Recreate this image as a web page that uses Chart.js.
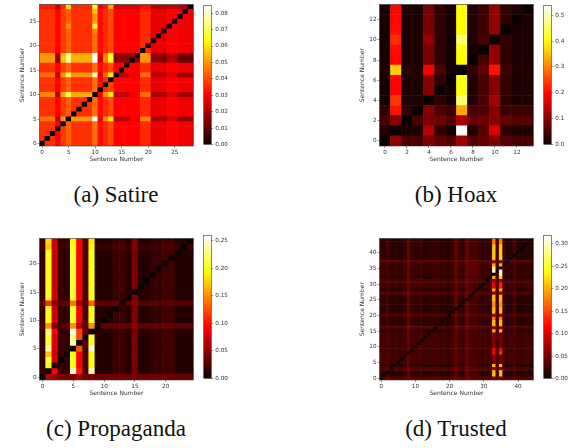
<!DOCTYPE html>
<html lang="en">
<head>
    <title>Sentence similarity heatmaps</title>
    <meta charset="utf-8" />
    <script src="https://cdn.jsdelivr.net/npm/chart.js"></script>
    <style>
        html, body { margin: 0; padding: 0; background: #fff; }
        body { position: relative; width: 579px; height: 448px; overflow: hidden; }
        canvas { position: absolute; filter: blur(0.5px); }
        .caption { position: absolute; width: 200px; text-align: center; font: 23px "Liberation Serif", serif; color: #111; line-height: 24px; }
    </style>
</head>
<body>
    <canvas id="satire" width="175" height="163" style="left:19px;top:0"></canvas>
    <canvas id="satireBar" width="50" height="150" style="left:196px;top:0"></canvas>
    <canvas id="hoax" width="175" height="163" style="left:359px;top:0"></canvas>
    <canvas id="hoaxBar" width="40" height="150" style="left:536px;top:0"></canvas>
    <canvas id="propaganda" width="175" height="163" style="left:19px;top:234px"></canvas>
    <canvas id="propagandaBar" width="50" height="154" style="left:196px;top:230px"></canvas>
    <canvas id="trusted" width="175" height="163" style="left:359px;top:234px"></canvas>
    <canvas id="trustedBar" width="40" height="154" style="left:536px;top:230px"></canvas>
    <div class="caption" style="left:16px;top:183px">(a) Satire</div>
    <div class="caption" style="left:356px;top:183px">(b) Hoax</div>
    <div class="caption" style="left:16px;top:417px">(c) Propaganda</div>
    <div class="caption" style="left:356px;top:417px">(d) Trusted</div>

    <script>
        // cell values in thousandths, first row is sentence 0
        var satireRows = [
            [0,37,37,31,38, 43,37,37,37,37, 45,32,36,40,31, 31,31,31,31,36, 36,28,28,28,31, 31,29,29,29],
            [37,0,37,31,38, 43,37,37,37,37, 45,32,36,40,31, 31,31,31,31,36, 36,28,28,28,31, 31,29,29,29],
            [37,37,0,31,38, 43,37,37,37,37, 45,32,36,40,31, 31,31,31,31,36, 36,28,28,28,31, 31,29,29,29],
            [37,37,37,0,38, 43,37,37,37,37, 45,32,36,40,31, 31,31,31,31,36, 36,28,28,28,31, 31,29,29,29],
            [37,37,37,31,0, 43,37,37,37,37, 45,32,36,40,31, 31,31,31,31,36, 36,28,28,28,31, 31,29,29,29],
            [46,46,46,22,50, 0,50,50,50,50, 85,30,48,60,22, 22,22,30,28,47, 47,21,21,18,27, 27,18,18,18],
            [37,37,37,31,38, 43,0,37,37,37, 45,32,36,40,31, 31,31,31,31,36, 36,28,28,28,31, 31,29,29,29],
            [37,37,37,31,38, 43,37,0,37,37, 45,32,36,40,31, 31,31,31,31,36, 36,28,28,28,31, 31,29,29,29],
            [37,37,37,31,38, 43,37,37,0,37, 45,32,36,40,31, 31,31,31,31,36, 36,28,28,28,31, 31,29,29,29],
            [37,37,37,31,38, 43,37,37,37,0, 45,32,36,40,31, 31,31,31,31,36, 36,28,28,28,31, 31,29,29,29],
            [48,48,48,22,52, 70,52,52,52,52, 0,30,50,60,23, 23,23,30,30,45, 45,21,21,21,27, 27,19,19,19],
            [37,37,37,31,38, 43,37,37,37,37, 45,0,36,40,31, 31,31,31,31,36, 36,28,28,28,31, 31,29,29,29],
            [37,37,37,31,38, 43,37,37,37,37, 45,32,0,40,31, 31,31,31,31,36, 36,28,28,28,31, 31,29,29,29],
            [37,37,37,31,38, 43,37,37,37,37, 45,32,36,0,31, 31,31,31,31,36, 36,28,28,28,31, 31,29,29,29],
            [45,45,45,22,50, 70,50,50,50,50, 80,28,45,60,0, 24,24,30,30,45, 45,22,22,22,27, 27,19,19,19],
            [37,37,37,31,38, 43,37,37,37,37, 45,32,36,40,31, 0,31,31,31,36, 36,28,28,28,31, 31,29,29,29],
            [37,37,37,31,38, 43,37,37,37,37, 45,32,36,40,31, 31,0,31,31,36, 36,28,28,28,31, 31,29,29,29],
            [50,50,50,18,55, 75,53,53,53,53, 85,27,48,65,17, 17,17,0,17,50, 50,17,17,14,22, 22,12,12,12],
            [50,50,50,18,55, 75,53,53,53,53, 85,27,48,65,17, 17,17,17,0,50, 50,17,17,14,22, 22,12,12,12],
            [37,37,37,31,38, 43,37,37,37,37, 45,32,36,40,31, 31,31,31,31,0, 36,28,28,28,31, 31,29,29,29],
            [37,37,37,31,38, 43,37,37,37,37, 45,32,36,40,31, 31,31,31,31,36, 0,28,28,28,31, 31,29,29,29],
            [37,37,37,31,38, 43,37,37,37,37, 45,32,36,40,31, 31,31,31,31,36, 36,0,28,28,31, 31,29,29,29],
            [37,37,37,31,38, 43,37,37,37,37, 45,32,36,40,31, 31,31,31,31,36, 36,28,0,28,31, 31,29,29,29],
            [37,37,37,31,38, 43,37,37,37,37, 48,32,36,40,31, 31,31,31,31,36, 36,28,28,0,31, 31,29,29,29],
            [37,37,37,31,38, 50,37,37,37,37, 68,32,36,40,31, 31,31,31,31,36, 36,28,28,28,0, 31,29,29,29],
            [37,37,37,31,38, 43,37,37,37,37, 50,32,36,40,31, 31,31,31,31,36, 36,28,28,28,31, 0,29,29,29],
            [37,37,37,31,38, 43,37,37,37,37, 50,32,36,40,31, 31,31,31,31,36, 36,28,28,28,31, 31,0,29,29],
            [37,37,37,31,38, 43,37,37,37,37, 55,32,36,40,31, 31,31,31,31,36, 36,28,28,28,31, 31,29,0,29],
            [34,34,34,24,36, 58,36,36,36,36, 66,28,34,52,26, 26,26,26,26,32, 32,22,22,22,24, 24,21,21,0]
        ];
        var hoaxRows = [
            [0,110,50,50,90, 70,60,120,60,70, 90,60,50,50],
            [20,0,15,15,140, 30,10,538,20,60, 170,30,15,15],
            [50,100,0,50,90, 80,60,130,70,80, 100,70,60,60],
            [30,210,30,0,100, 50,40,330,50,50, 100,40,40,40],
            [10,240,15,15,0, 30,10,460,20,50, 120,30,15,15],
            [10,200,15,15,100, 0,10,410,20,50, 100,30,15,15],
            [10,200,15,15,100, 30,0,410,20,50, 100,30,15,15],
            [20,360,25,20,190, 50,10,0,30,70, 210,40,20,20],
            [10,200,15,15,90, 30,10,400,0,50, 110,30,15,15],
            [10,205,15,15,90, 30,10,410,10,0, 110,30,15,15],
            [10,230,15,15,110, 30,10,460,20,50, 0,30,15,15],
            [10,205,15,15,90, 30,10,400,20,40, 110,0,15,15],
            [10,200,15,15,90, 30,10,400,20,40, 110,30,0,15],
            [10,200,15,15,90, 30,10,400,20,40, 110,30,15,0]
        ];
        var propagandaRows = [
            [0,65,58,45,40, 45,55,40,45,38, 38,38,38,40,38, 45,38,38,38,38, 40,38,36,36,36],
            [18,0,95,20,16, 250,105,28,240,10, 10,10,18,20,10, 45,10,10,16,16, 20,20,10,10,10],
            [16,195,0,18,14, 195,95,28,195,10, 10,10,18,20,10, 45,10,10,16,16, 20,20,10,10,10],
            [16,210,80,0,14, 205,95,28,205,10, 10,10,18,20,10, 45,10,10,16,16, 20,20,10,10,10],
            [16,170,75,18,0, 195,95,28,195,10, 10,10,18,20,10, 45,10,10,16,16, 20,20,10,10,10],
            [16,235,80,18,14, 0,125,28,248,10, 10,10,18,20,10, 45,10,10,16,16, 20,20,10,10,10],
            [16,210,80,18,14, 235,0,28,200,10, 10,10,18,20,10, 45,10,10,16,16, 20,20,10,10,10],
            [16,205,80,18,14, 225,120,0,205,10, 10,10,18,20,10, 45,10,10,16,16, 20,20,10,10,10],
            [16,235,95,18,14, 258,120,35,0,10, 10,10,18,20,10, 45,10,10,16,16, 20,20,10,10,10],
            [26,150,45,26,30, 150,65,33,150,0, 33,33,33,36,33, 50,33,33,33,33, 35,35,32,32,32],
            [16,200,75,18,14, 205,95,28,200,10, 0,10,18,20,10, 45,10,10,16,16, 20,20,10,10,10],
            [16,200,75,18,14, 205,95,28,200,10, 10,0,18,20,10, 45,10,10,16,16, 20,20,10,10,10],
            [16,200,75,18,14, 205,95,28,200,10, 10,10,0,20,10, 45,10,10,16,16, 20,20,10,10,10],
            [33,110,45,33,33, 140,55,33,130,33, 33,33,35,0,30, 50,30,30,30,30, 32,32,30,30,30],
            [16,200,75,18,14, 205,95,28,200,10, 10,10,18,20,0, 45,10,10,16,16, 20,20,10,10,10],
            [16,200,75,18,14, 205,95,28,200,10, 10,10,18,20,10, 0,10,10,16,16, 20,20,10,10,10],
            [16,200,75,18,14, 205,95,28,200,10, 10,10,18,20,10, 45,0,10,16,16, 20,20,10,10,10],
            [16,200,75,18,14, 205,95,28,200,10, 10,10,18,20,10, 45,10,0,16,16, 20,20,10,10,10],
            [16,200,75,18,14, 205,95,28,200,10, 10,10,18,20,10, 45,10,10,0,16, 20,20,10,10,10],
            [16,200,75,18,14, 205,95,28,200,10, 10,10,18,20,10, 45,10,10,16,0, 20,20,10,10,10],
            [16,200,75,18,14, 205,95,28,200,10, 10,10,18,20,10, 45,10,10,16,16, 0,20,10,10,10],
            [16,200,75,18,14, 205,95,28,200,10, 10,10,18,20,10, 45,10,10,16,16, 20,0,10,10,10],
            [16,195,75,18,14, 205,95,28,200,10, 10,10,18,20,10, 45,10,10,16,16, 20,20,0,10,10],
            [22,170,75,22,18, 195,95,30,190,18, 18,18,24,26,18, 45,18,18,20,20, 24,24,18,0,18],
            [16,180,75,18,14, 190,95,28,185,10, 10,10,18,20,10, 45,10,10,16,16, 20,20,10,10,0]
        ];
        var trustedRows = [
            [0,34,40,34,34, 34,34,34,50,38, 36,36,36,34,34, 36,36,34,32,32, 32,36,50,36,32, 50,42,40,40,36, 34,34,36,55,38, 50,36,32,32,38, 32,32,32,32,32],
            [20,0,28,15,15, 15,15,15,42,22, 20,18,20,14,14, 20,20,18,14,14, 14,20,42,22,14, 45,30,28,28,20, 18,18,22,205,28, 205,22,14,14,30, 14,14,14,14,14],
            [20,15,0,15,15, 15,15,15,42,22, 20,18,20,14,14, 20,20,18,14,14, 14,20,42,22,14, 45,30,28,28,20, 18,18,22,205,28, 205,22,14,14,30, 14,14,14,14,14],
            [38,34,40,0,34, 34,34,34,50,38, 36,36,36,34,34, 36,36,34,32,32, 32,36,50,36,32, 50,42,40,40,36, 34,34,36,65,38, 58,36,32,32,38, 32,32,32,32,32],
            [20,15,28,15,0, 15,15,15,42,22, 20,18,20,14,14, 20,20,18,14,14, 14,20,42,22,14, 45,30,28,28,20, 18,18,22,200,28, 200,22,14,14,30, 14,14,14,14,14],
            [28,25,32,25,25, 0,25,25,42,28, 28,28,28,25,25, 28,28,26,24,24, 24,28,42,28,24, 42,32,30,30,26, 25,25,28,55,30, 50,28,25,25,32, 25,25,25,25,25],
            [28,25,32,25,25, 25,0,25,42,28, 28,28,28,25,25, 28,28,26,24,24, 24,28,42,28,24, 42,32,30,30,26, 25,25,28,55,30, 50,28,25,25,32, 25,25,25,25,25],
            [28,25,32,25,25, 25,25,0,42,28, 28,28,28,25,25, 28,28,26,24,24, 24,28,42,28,24, 42,32,30,30,26, 25,25,28,55,30, 50,28,25,25,32, 25,25,25,25,25],
            [28,25,32,25,25, 25,25,25,0,28, 28,28,28,25,25, 28,28,26,24,24, 24,28,42,28,24, 42,32,30,30,26, 25,25,28,115,30, 140,28,25,25,32, 25,25,25,25,25],
            [28,25,32,25,25, 25,25,25,42,0, 28,28,28,25,25, 28,28,26,24,24, 24,28,42,28,24, 42,32,30,30,26, 25,25,28,105,30, 115,28,25,25,32, 25,25,25,25,25],
            [28,25,32,25,25, 25,25,25,42,28, 0,28,28,25,25, 28,28,26,24,24, 24,28,42,28,24, 42,32,30,30,26, 25,25,28,55,30, 50,28,25,25,32, 25,25,25,25,25],
            [28,25,32,25,25, 25,25,25,42,28, 28,0,28,25,25, 28,28,26,24,24, 24,28,42,28,24, 42,32,30,30,26, 25,25,28,55,30, 50,28,25,25,32, 25,25,25,25,25],
            [28,25,32,25,25, 25,25,25,42,28, 28,28,0,25,25, 28,28,26,24,24, 24,28,42,28,24, 42,32,30,30,26, 25,25,28,55,30, 50,28,25,25,32, 25,25,25,25,25],
            [28,25,32,25,25, 25,25,25,42,28, 28,28,28,0,25, 28,28,26,24,24, 24,28,42,28,24, 42,32,30,30,26, 25,25,28,55,30, 50,28,25,25,32, 25,25,25,25,25],
            [28,25,32,25,25, 25,25,25,42,28, 28,28,28,25,0, 28,28,26,24,24, 24,28,42,28,24, 42,32,30,30,26, 25,25,28,55,30, 50,28,25,25,32, 25,25,25,25,25],
            [20,15,28,15,15, 15,15,15,42,22, 20,18,20,14,14, 0,20,18,14,14, 14,20,42,22,14, 45,30,28,28,20, 18,18,22,195,28, 195,22,14,14,30, 14,14,14,14,14],
            [38,34,40,34,34, 34,34,34,50,38, 36,36,36,34,34, 36,0,34,32,32, 32,36,50,36,32, 50,42,40,40,36, 34,34,36,65,38, 58,36,32,32,38, 32,32,32,32,32],
            [20,15,28,15,15, 15,15,15,42,22, 20,18,20,14,14, 20,20,0,14,14, 14,20,42,22,14, 45,30,28,28,20, 18,18,22,205,28, 205,22,14,14,30, 14,14,14,14,14],
            [20,15,28,15,15, 15,15,15,42,22, 20,18,20,14,14, 20,20,18,0,14, 14,20,42,22,14, 45,30,28,28,20, 18,18,22,205,28, 205,22,14,14,30, 14,14,14,14,14],
            [20,15,28,15,15, 15,15,15,42,22, 20,18,20,14,14, 20,20,18,14,0, 14,20,42,22,14, 45,30,28,28,20, 18,18,22,170,28, 175,22,14,14,30, 14,14,14,14,14],
            [38,34,40,34,34, 34,34,34,50,38, 36,36,36,34,34, 36,36,34,32,32, 0,36,50,36,32, 50,42,40,40,36, 34,34,36,65,38, 58,36,32,32,38, 32,32,32,32,32],
            [20,15,28,15,15, 15,15,15,42,22, 20,18,20,14,14, 20,20,18,14,14, 14,0,42,22,14, 45,30,28,28,20, 18,18,22,205,28, 205,22,14,14,30, 14,14,14,14,14],
            [20,15,28,15,15, 15,15,15,42,22, 20,18,20,14,14, 20,20,18,14,14, 14,20,0,22,14, 45,30,28,28,20, 18,18,22,205,28, 205,22,14,14,30, 14,14,14,14,14],
            [20,15,28,15,15, 15,15,15,42,22, 20,18,20,14,14, 20,20,18,14,14, 14,20,42,0,14, 45,30,28,28,20, 18,18,22,180,28, 185,22,14,14,30, 14,14,14,14,14],
            [20,15,28,15,15, 15,15,15,42,22, 20,18,20,14,14, 20,20,18,14,14, 14,20,42,22,0, 45,30,28,28,20, 18,18,22,185,28, 190,22,14,14,30, 14,14,14,14,14],
            [20,15,28,15,15, 15,15,15,42,22, 20,18,20,14,14, 20,20,18,14,14, 14,20,42,22,14, 0,30,28,28,20, 18,18,22,205,28, 205,22,14,14,30, 14,14,14,14,14],
            [20,15,28,15,15, 15,15,15,42,22, 20,18,20,14,14, 20,20,18,14,14, 14,20,42,22,14, 45,0,28,28,20, 18,18,22,205,28, 205,22,14,14,30, 14,14,14,14,14],
            [38,34,40,34,34, 34,34,34,50,38, 36,36,36,34,34, 36,36,34,32,32, 32,36,50,36,32, 50,42,0,40,36, 34,34,36,65,38, 58,36,32,32,38, 32,32,32,32,32],
            [20,15,28,15,15, 15,15,15,42,22, 20,18,20,14,14, 20,20,18,14,14, 14,20,42,22,14, 45,30,28,0,20, 18,18,22,195,28, 195,22,14,14,30, 14,14,14,14,14],
            [28,25,32,25,25, 25,25,25,42,28, 28,28,28,25,25, 28,28,26,24,24, 24,28,42,28,24, 42,32,30,30,0, 25,25,28,110,30, 130,28,25,25,32, 25,25,25,25,25],
            [28,25,32,25,25, 25,25,25,42,28, 28,28,28,25,25, 28,28,26,24,24, 24,28,42,28,24, 42,32,30,30,26, 0,25,28,105,30, 125,28,25,25,32, 25,25,25,25,25],
            [38,34,40,34,34, 34,34,34,50,38, 36,36,36,34,34, 36,36,34,32,32, 32,36,50,36,32, 50,42,40,40,36, 34,0,36,65,38, 58,36,32,32,38, 32,32,32,32,32],
            [20,15,28,15,15, 15,15,15,42,22, 20,18,20,14,14, 20,20,18,14,14, 14,20,42,22,14, 45,30,28,28,20, 18,18,0,190,28, 215,22,14,14,30, 14,14,14,14,14],
            [24,20,30,20,20, 20,20,20,45,26, 24,22,24,20,20, 24,24,22,20,20, 20,24,45,26,20, 46,38,40,40,28, 22,22,26,0,30, 300,26,20,20,30, 20,20,20,20,20],
            [24,20,30,20,20, 20,20,20,45,26, 24,22,24,20,20, 24,24,22,20,20, 20,24,45,26,20, 46,38,40,40,28, 22,22,26,300,0, 310,26,20,20,30, 20,20,20,20,20],
            [24,20,30,20,20, 20,20,20,45,26, 24,22,24,20,20, 24,24,22,20,20, 20,24,45,26,20, 46,38,40,40,28, 22,22,26,280,30, 0,26,20,20,30, 20,20,20,20,20],
            [24,20,30,20,20, 20,20,20,45,26, 24,22,24,20,20, 24,24,22,20,20, 20,24,45,26,20, 46,38,40,40,28, 22,22,26,190,30, 200,0,20,20,30, 20,20,20,20,20],
            [38,34,40,34,34, 34,34,34,50,38, 36,36,36,34,34, 36,36,34,32,32, 32,36,50,36,32, 50,42,40,40,36, 34,34,36,65,38, 58,36,0,32,38, 32,32,32,32,32],
            [20,15,28,15,15, 15,15,15,42,22, 20,18,20,14,14, 20,20,18,14,14, 14,20,42,22,14, 45,30,28,28,20, 18,18,22,210,28, 215,22,14,0,30, 14,14,14,14,14],
            [20,15,28,15,15, 15,15,15,42,22, 20,18,20,14,14, 20,20,18,14,14, 14,20,42,22,14, 45,30,28,28,20, 18,18,22,210,28, 215,22,14,14,0, 14,14,14,14,14],
            [20,15,28,15,15, 15,15,15,42,22, 20,18,20,14,14, 20,20,18,14,14, 14,20,42,22,14, 45,30,28,28,20, 18,18,22,210,28, 215,22,14,14,30, 0,14,14,14,14],
            [20,15,28,15,15, 15,15,15,42,22, 20,18,20,14,14, 20,20,18,14,14, 14,20,42,22,14, 45,30,28,28,20, 18,18,22,210,28, 215,22,14,14,30, 14,0,14,14,14],
            [20,15,28,15,15, 15,15,15,42,22, 20,18,20,14,14, 20,20,18,14,14, 14,20,42,22,14, 45,30,28,28,20, 18,18,22,210,28, 215,22,14,14,30, 14,14,0,14,14],
            [20,15,28,15,15, 15,15,15,42,22, 20,18,20,14,14, 20,20,18,14,14, 14,20,42,22,14, 45,30,28,28,20, 18,18,22,170,28, 175,22,14,14,30, 14,14,14,0,14],
            [20,15,28,15,15, 15,15,15,42,22, 20,18,20,14,14, 20,20,18,14,14, 14,20,42,22,14, 45,30,28,28,20, 18,18,22,170,28, 175,22,14,14,30, 14,14,14,14,0]
        ];

        var satireTicks = [0, 5, 10, 15, 20, 25];
        var hoaxTicks = [0, 2, 4, 6, 8, 10, 12];
        var propagandaTicks = [0, 5, 10, 15, 20];
        var trustedTicks = [0, 10, 20, 30, 40];
        var trustedYTicks = [0, 5, 10, 15, 20, 25, 30, 35, 40];

        var satireBarTicks = [0, 0.01, 0.02, 0.03, 0.04, 0.05, 0.06, 0.07, 0.08];
        var hoaxBarTicks = [0, 0.1, 0.2, 0.3, 0.4, 0.5];
        var propagandaBarTicks = [0, 0.05, 0.10, 0.15, 0.20, 0.25];
        var trustedBarTicks = [0, 0.05, 0.10, 0.15, 0.20, 0.25, 0.30];

        var axisTitle = 'Sentence Number';
        var inkColor = '#333';
        var tickFont = { family: 'DejaVu Sans', size: 5.7 };
        var titleFont = { family: 'DejaVu Sans', size: 6 };

        // matplotlib "hot" colormap
        function hot(t) {
            t = Math.max(0, Math.min(1, t));
            var r = Math.min(1, 0.0416 + t / 0.365 * 0.9584);
            var g = Math.max(0, Math.min(1, (t - 0.365) / 0.381));
            var b = Math.max(0, (t - 0.746) / 0.254);
            return 'rgb(' + Math.round(r * 255) + ',' + Math.round(g * 255) + ',' + Math.round(b * 255) + ')';
        }

        // draws the matplotlib box round the plot
        var framePlugin = {
            id: 'frame',
            afterDatasetsDraw: function (chart) {
                var a = chart.chartArea, c = chart.ctx;
                c.save();
                c.strokeStyle = inkColor;
                c.lineWidth = 0.6;
                c.strokeRect(a.left, a.top, a.right - a.left, a.bottom - a.top);
                c.restore();
            }
        };

        function heatmap(id, rows, xTicks, yTicks, vmax) {
            var labels = rows.map(function (r, i) { return String(i); });
            var datasets = rows.map(function (row, r) {
                return {
                    data: row.map(function () { return [r - 0.5, r + 0.5]; }),
                    backgroundColor: row.map(function (v) { return hot(v / 1000 / vmax); }),
                    borderWidth: 0,
                    grouped: false,
                    categoryPercentage: 1,
                    barPercentage: 1,
                    inflateAmount: 0.3
                };
            });
            new Chart(document.getElementById(id), {
                type: 'bar',
                data: { labels: labels, datasets: datasets },
                plugins: [framePlugin],
                options: {
                    responsive: false,
                    animation: false,
                    layout: { padding: { top: 0, bottom: 0, left: 0, right: 0.6 } },
                    plugins: { legend: { display: false }, tooltip: { enabled: false } },
                    scales: {
                        x: {
                            grid: { offset: false, drawOnChartArea: false, tickLength: 2, tickColor: inkColor, tickWidth: 0.5 },
                            border: { display: false },
                            ticks: { autoSkip: false, maxRotation: 0, color: inkColor, font: tickFont, padding: 1 },
                            title: { display: true, text: axisTitle, color: inkColor, font: titleFont, padding: 0 },
                            afterBuildTicks: function (s) {
                                s.ticks = s.ticks.filter(function (t) { return xTicks.indexOf(t.value) >= 0; });
                            },
                            afterFit: function (s) { s.height = 17; }
                        },
                        y: {
                            min: -0.5,
                            max: rows.length - 0.5,
                            grid: { drawOnChartArea: false, tickLength: 2, tickColor: inkColor, tickWidth: 0.5 },
                            border: { display: false },
                            ticks: { color: inkColor, font: tickFont, padding: 1 },
                            title: { display: true, text: axisTitle, color: inkColor, font: titleFont, padding: 0 },
                            afterBuildTicks: function (s) {
                                s.ticks = yTicks.map(function (v) { return { value: v }; });
                            },
                            afterFit: function (s) { s.width = 20.5; }
                        }
                    }
                }
            });
        }

        function colorbar(id, vmax, ticks, decimals, padTop, padBottom) {
            new Chart(document.getElementById(id), {
                type: 'bar',
                data: {
                    labels: ['scale'],
                    datasets: [{
                        data: [[0, vmax]],
                        borderWidth: 0,
                        categoryPercentage: 1,
                        barPercentage: 1,
                        backgroundColor: function (ctx) {
                            var a = ctx.chart.chartArea;
                            if (!a) { return '#000'; }
                            var g = ctx.chart.ctx.createLinearGradient(0, a.bottom, 0, a.top);
                            for (var i = 0; i <= 32; i++) { g.addColorStop(i / 32, hot(i / 32)); }
                            return g;
                        }
                    }]
                },
                plugins: [framePlugin],
                options: {
                    responsive: false,
                    animation: false,
                    layout: { padding: { top: padTop, bottom: padBottom, left: 7.7, right: 0 } },
                    plugins: { legend: { display: false }, tooltip: { enabled: false } },
                    scales: {
                        x: { display: false },
                        y: {
                            position: 'right',
                            min: 0,
                            max: vmax,
                            grid: { drawOnChartArea: false, tickLength: 2, tickColor: inkColor, tickWidth: 0.5 },
                            border: { display: false },
                            ticks: {
                                color: inkColor,
                                font: tickFont,
                                padding: 2,
                                callback: function (v) { return v.toFixed(decimals); }
                            },
                            afterBuildTicks: function (s) {
                                s.ticks = ticks.map(function (v) { return { value: v }; });
                            },
                            afterFit: function (s) { s.width = s.chart.width - 15.3; }
                        }
                    }
                }
            });
        }

        heatmap('satire', satireRows, satireTicks, satireTicks, 0.0847);
        colorbar('satireBar', 0.0847, satireBarTicks, 2, 0, 4);
        heatmap('hoax', hoaxRows, hoaxTicks, hoaxTicks, 0.538);
        colorbar('hoaxBar', 0.538, hoaxBarTicks, 1, 0, 4);
        heatmap('propaganda', propagandaRows, propagandaTicks, propagandaTicks, 0.259);
        colorbar('propagandaBar', 0.259, propagandaBarTicks, 2, 4, 4);
        heatmap('trusted', trustedRows, trustedTicks, trustedYTicks, 0.318);
        colorbar('trustedBar', 0.318, trustedBarTicks, 2, 4, 4);
    </script>
</body>
</html>
